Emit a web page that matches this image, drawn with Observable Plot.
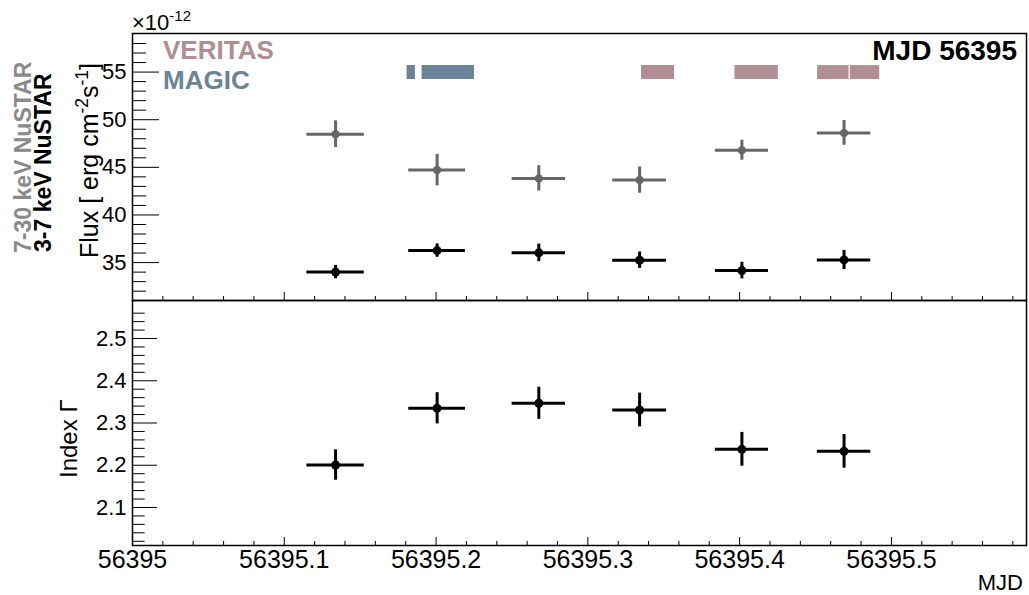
<!DOCTYPE html>
<html><head><meta charset="utf-8">
<script src="https://cdn.jsdelivr.net/npm/d3@7"></script>
<script src="https://cdn.jsdelivr.net/npm/@observablehq/plot@0.6"></script>
<style>
body{margin:0;background:#fff;}
#wrap{position:relative;width:1029px;height:595px;font-family:"Liberation Sans",Arial,Helvetica,sans-serif;overflow:hidden;background:#fff;}
.pa{position:absolute;left:0;}
.t{position:absolute;white-space:nowrap;line-height:1;}
.rot{transform:rotate(-90deg);transform-origin:left top;}
sup{font-size:0.7em;vertical-align:0;position:relative;top:-0.55em;}
</style></head><body>
<div id="wrap">
  <div id="top" class="pa" style="top:0"></div>
  <div id="bot" class="pa" style="top:290px"></div>
  <div class="t" style="left:132px;top:12.4px;font-size:22px;">×10<sup style="font-size:15px;top:-9px">-12</sup></div>
  <div class="t" style="left:163px;top:36.2px;font-size:26px;line-height:29.5px;font-weight:bold;"><span id="lVer"></span><br><span id="lMag"></span></div>
  <div class="t" style="right:12px;top:37.3px;font-size:28px;font-weight:bold;">MJD 56395</div>
  <div class="t rot" style="left:12.2px;top:253px;font-size:23px;font-weight:bold;color:#8a8a8a;">7-30 keV NuSTAR</div>
  <div class="t rot" style="left:32.2px;top:252px;font-size:23px;font-weight:bold;color:#000;">3-7 keV NuSTAR</div>
  <div class="t rot" style="left:76.8px;top:258px;font-size:25px;">Flux [ erg cm<sup>-2</sup>s<sup>-1</sup>]</div>
  <div class="t rot" style="left:56.7px;top:478px;font-size:24px;">Index Γ</div>
  <div class="t" style="right:6px;top:572.4px;font-size:22px;">MJD</div>
</div>
<script>
// ---- data ----
const mjd      = [56395.1338, 56395.2007, 56395.2677, 56395.3341, 56395.4015, 56395.4688];
const mjdErr   = [0.0189, 0.0187, 0.0176, 0.0177, 0.0175, 0.0176];
const fluxSoft    = [34.00, 36.26, 36.02, 35.25, 34.16, 35.28];   // 3-7 keV, 1e-12
const fluxSoftErr = [0.70, 0.70, 0.92, 0.86, 0.87, 1.00];
const fluxHard    = [48.48, 44.71, 43.84, 43.66, 46.80, 48.61];   // 7-30 keV, 1e-12
const fluxHardErr = [1.40, 1.65, 1.33, 1.38, 1.05, 1.30];
const index    = [2.2005, 2.3348, 2.3467, 2.3308, 2.2377, 2.2329];
const indexErr = [0.036, 0.037, 0.038, 0.040, 0.040, 0.040];
const magicStart   = [56395.1809, 56395.1908];
const magicEnd     = [56395.1864, 56395.2253];
const veritasStart = [56395.3354, 56395.3969, 56395.4514, 56395.4729];
const veritasEnd   = [56395.3571, 56395.4255, 56395.4721, 56395.4923];
const telescopeLevel = 55;
const xMajor = [56395, 56395.1, 56395.2, 56395.3, 56395.4, 56395.5];
const yMajorTop = [35, 40, 45, 50, 55];
const yMajorBot = [2.1, 2.2, 2.3, 2.4, 2.5];
const labels = {veritas: "VERITAS", magic: "MAGIC"};

// ---- style ----
const FONT = '"Liberation Sans", Arial, Helvetica, sans-serif';
const W = 1029, ML = 132, MR = 3;
const xDomain = [56395, 56395.589];
const topDomain = [31.02, 59.05];
const botDomain = [2.01, 2.59];
const cVer = "#b08e93", cMag = "#6a8398", cGray = "#666666";
document.getElementById("lVer").textContent = labels.veritas;
document.getElementById("lVer").style.color = cVer;
document.getElementById("lMag").textContent = labels.magic;
document.getElementById("lMag").style.color = cMag;

const xMinor = d3.range(1, 30).map(i => 56395 + i * 0.02).filter((d, i) => (i + 1) % 5 !== 0);
const yMinorTop = d3.range(32, 59).filter(d => d % 5 !== 0);
const yMinorBot = d3.range(1, 29).map(i => 2.0 + i * 0.02).filter((d, i) => (i + 1) % 5 !== 0);

const pxPerX = (W - ML - MR) / (xDomain[1] - xDomain[0]);

function yTickRules(vals, len) {
  return Plot.ruleY(vals, {y: d => d, x1: () => xDomain[0], x2: () => xDomain[0] + len / pxPerX, stroke: "black", strokeWidth: 1});
}
function xTickRules(vals, len, dom, pxPerY) {
  return Plot.ruleX(vals, {x: d => d, y1: () => dom[0], y2: () => dom[0] + len / pxPerY, stroke: "black", strokeWidth: 1});
}
function errMarks(xs, xe, ys, ye, color, r) {
  const pts = xs.map((x, i) => ({x, xe: xe[i], y: ys[i], ye: ye[i]}));
  return [
    Plot.ruleY(pts, {x1: d => d.x - d.xe, x2: d => d.x + d.xe, y: "y", stroke: color, strokeWidth: 3}),
    Plot.ruleX(pts, {x: "x", y1: d => d.y - d.ye, y2: d => d.y + d.ye, stroke: color, strokeWidth: 3}),
    Plot.dot(pts, {x: "x", y: "y", r, fill: color, stroke: "none"})
  ];
}

// ---- top panel ----
const topH = 301, topMT = 33, topMB = 1;
const pxPerYTop = (topH - topMT - topMB) / (topDomain[1] - topDomain[0]);
const magic = magicStart.map((s, i) => ({s, e: magicEnd[i]}));
const veritas = veritasStart.map((s, i) => ({s, e: veritasEnd[i]}));
const topPlot = Plot.plot({
  width: W, height: topH, marginLeft: ML, marginRight: MR, marginTop: topMT, marginBottom: topMB,
  style: {background: "transparent", overflow: "visible", fontFamily: FONT},
  x: {domain: xDomain, axis: null},
  y: {domain: topDomain, label: null},
  marks: [
    Plot.ruleY(magic, {x1: "s", x2: "e", y: () => telescopeLevel, stroke: cMag, strokeWidth: 14}),
    Plot.ruleY(veritas, {x1: "s", x2: "e", y: () => telescopeLevel, stroke: cVer, strokeWidth: 14}),
    ...errMarks(mjd, mjdErr, fluxHard, fluxHardErr, cGray, 4),
    ...errMarks(mjd, mjdErr, fluxSoft, fluxSoftErr, "black", 4.5),
    yTickRules(yMajorTop, 27),
    yTickRules(yMinorTop, 14),
    xTickRules(xMajor, 8, topDomain, pxPerYTop),
    xTickRules(xMinor, 4, topDomain, pxPerYTop),
    Plot.axisY({ticks: yMajorTop, tickSize: 0, tickPadding: 6, fontSize: 22, label: null, tickFormat: d => String(d)}),
    Plot.frame({stroke: "black", strokeWidth: 1.5})
  ]
});
document.getElementById("top").appendChild(topPlot);

// ---- bottom panel ----
const botH = 305, botMT = 10, botMB = 50;
const pxPerYBot = (botH - botMT - botMB) / (botDomain[1] - botDomain[0]);
const botPlot = Plot.plot({
  width: W, height: botH, marginLeft: ML, marginRight: MR, marginTop: botMT, marginBottom: botMB,
  style: {background: "transparent", overflow: "visible", fontFamily: FONT},
  x: {domain: xDomain, label: null},
  y: {domain: botDomain, label: null},
  marks: [
    ...errMarks(mjd, mjdErr, index, indexErr, "black", 4.5),
    yTickRules(yMajorBot, 25),
    yTickRules(yMinorBot, 12.7),
    xTickRules(xMajor, 8, botDomain, pxPerYBot),
    xTickRules(xMinor, 4, botDomain, pxPerYBot),
    Plot.axisY({ticks: yMajorBot, tickSize: 0, tickPadding: 6, fontSize: 22, label: null, tickFormat: d => d.toFixed(1)}),
    Plot.axisX({ticks: xMajor, tickSize: 0, tickPadding: 5, fontSize: 25, label: null, tickFormat: d => String(+d.toFixed(1))}),
    Plot.frame({stroke: "black", strokeWidth: 1.5})
  ]
});
document.getElementById("bot").appendChild(botPlot);
</script>
</body></html>
